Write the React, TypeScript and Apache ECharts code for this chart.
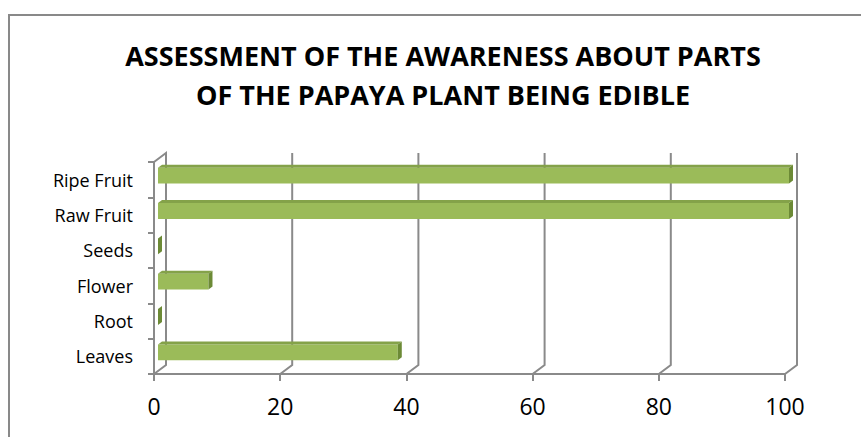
import React, { useEffect, useRef } from "react";
import * as echarts from "echarts";

const titleLines = [
  "ASSESSMENT OF THE AWARENESS ABOUT PARTS",
  "OF THE PAPAYA PLANT BEING EDIBLE",
];
const categories = ["Leaves", "Root", "Flower", "Seeds", "Raw Fruit", "Ripe Fruit"];
const values = [38, 0, 8, 0, 100, 100];
const xTicks = [0, 20, 40, 60, 80, 100];

const FONT = "'Open Sans', 'Noto Sans', sans-serif";
const GRID_COLOR = "#8a8a8a";
const WALL_DX = 12;
const WALL_DY = -9;

export default function App() {
  const ref = useRef<HTMLDivElement>(null);

  useEffect(() => {
    if (!ref.current) return;
    const chart = echarts.init(ref.current, null, { renderer: "svg" });

    const option: any = {
      animation: false,
      backgroundColor: "#ffffff",
      graphic: [
        {
          type: "rect",
          shape: { x: 9, y: 15, width: 900, height: 500 },
          style: { fill: "none", stroke: "#898989", lineWidth: 2 },
          silent: true,
        },
        ...titleLines.map((t, i) => ({
          type: "text",
          x: 443,
          y: 55 + i * 39,
          style: {
            text: t,
            font: `bold 27px ${FONT}`,
            fill: "#000000",
            textAlign: "center",
            textVerticalAlign: "middle",
          },
          silent: true,
        })),
      ],
      grid: { left: 154, right: 76, top: 162, bottom: 63, containLabel: false },
      xAxis: {
        type: "value",
        min: 0,
        max: 100,
        interval: 20,
        axisLine: { show: true, lineStyle: { color: GRID_COLOR, width: 2 } },
        axisTick: { show: true, length: 7, lineStyle: { color: GRID_COLOR, width: 2 } },
        axisLabel: { color: "#000000", fontSize: 23, fontFamily: FONT, margin: 20 },
        splitLine: { show: false },
      },
      yAxis: {
        type: "category",
        data: categories,
        axisLine: { show: true, lineStyle: { color: GRID_COLOR, width: 2 } },
        axisTick: { show: true, length: 6, lineStyle: { color: GRID_COLOR, width: 2 } },
        axisLabel: { color: "#000000", fontSize: 18, fontFamily: FONT, margin: 21 },
        splitLine: { show: false },
      },
      series: [
        {
          type: "custom",
          z: 1,
          silent: true,
          data: xTicks.map((v) => [v]),
          renderItem: (params: any, api: any) => {
            const cs = params.coordSys;
            const v = api.value(0);
            const x = api.coord([v, 0])[0];
            const top = cs.y;
            const bottom = cs.y + cs.height;
            const pts: number[][] = [
              [x, bottom],
              [x + WALL_DX, bottom + WALL_DY],
              [x + WALL_DX, top + WALL_DY],
            ];
            if (v === 0) pts.push([x, top]);
            return {
              type: "polyline",
              shape: { points: pts },
              style: { stroke: GRID_COLOR, lineWidth: 2, fill: "none" },
            };
          },
        },
        {
          type: "custom",
          z: 5,
          data: values.map((v, i) => [v, i]),
          renderItem: (params: any, api: any) => {
            const v = api.value(0);
            const i = api.value(1);
            const start = api.coord([0, i]);
            const end = api.coord([v, i]);
            const band = api.size([0, 1])[1];
            const h = band * 0.45;
            const ox = 4;
            const oy = -4;
            const dx = 4;
            const dy = -3;
            const xs = start[0] + ox;
            const xe = end[0] + ox;
            const yc = start[1] + oy;
            const yt = yc - h / 2;
            const yb = yc + h / 2;
            const children: any[] = [];
            if (xe > xs) {
              children.push({
                type: "rect",
                shape: { x: xs, y: yt, width: xe - xs, height: h },
                style: { fill: "#9bbb59" },
              });
              children.push({
                type: "polygon",
                shape: {
                  points: [
                    [xs, yt],
                    [xe, yt],
                    [xe + dx, yt + dy],
                    [xs + dx, yt + dy],
                  ],
                },
                style: { fill: "#84a249" },
              });
            }
            children.push({
              type: "polygon",
              shape: {
                points: [
                  [xe, yt],
                  [xe + dx, yt + dy],
                  [xe + dx, yb + dy],
                  [xe, yb],
                ],
              },
              style: { fill: "#6c8a36" },
            });
            return { type: "group", children };
          },
        },
      ],
    };

    chart.setOption(option);
    return () => chart.dispose();
  }, []);

  return (
    <div
      ref={ref}
      style={{ position: "fixed", left: 0, top: 0, width: 861, height: 437 }}
    />
  );
}
